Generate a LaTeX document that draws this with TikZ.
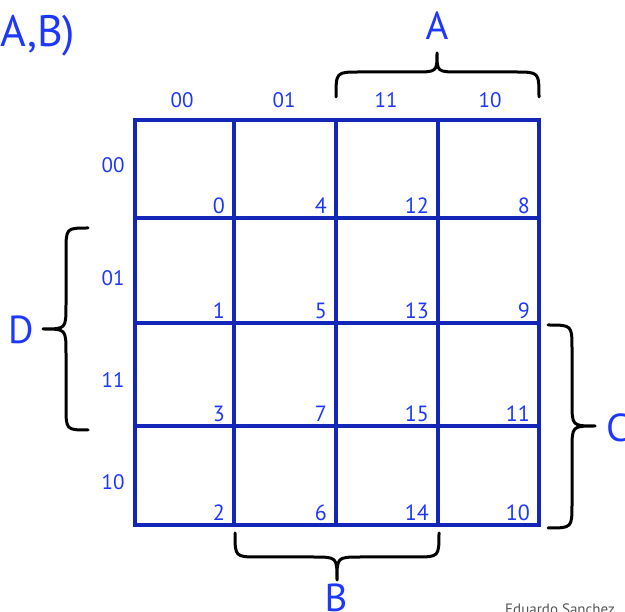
\documentclass[tikz,border=0pt]{standalone}
\usepackage{fontspec}
\setmainfont{PT Sans}
\definecolor{gridblue}{RGB}{20,38,184}
\definecolor{txtblue}{RGB}{30,55,255}
\definecolor{credgray}{RGB}{85,85,85}
\tikzset{
  gridline/.style={draw=gridblue, line width=3.8pt},
  bracepath/.style={draw=black, line width=3pt, line cap=round, line join=round},
  cellnum/.style={text=txtblue, font=\fontsize{22}{24}\selectfont, inner sep=0pt, anchor=base east},
  header/.style={text=txtblue, font=\fontsize{21}{24}\selectfont, inner sep=0pt},
  biglabel/.style={text=txtblue, font=\fontsize{39}{42}\selectfont, inner sep=0pt},
}
\begin{document}
\begin{tikzpicture}[x=1pt,y=-1pt]
\useasboundingbox (0,0) rectangle (625,612);
% grid
\foreach \x in {135,234,336,438,539} \draw[gridline] (\x,120) -- (\x,525);
\foreach \y in {120,218,323,426,525} \draw[gridline] (135,\y) -- (539,\y);
\draw[gridline] (135,120) rectangle (539,525);
% cell numbers
\def\colR{{234,336,438,539}}
\def\rowB{{218,323,426,525}}
\foreach \r/\nums in {0/{0,4,12,8},1/{1,5,13,9},2/{3,7,15,11},3/{2,6,14,10}}{
  \foreach \n [count=\c from 0] in \nums {
    \pgfmathsetmacro{\xx}{\colR[\c]-9}
    \pgfmathsetmacro{\yy}{\rowB[\r]-4}
    \node[cellnum] (cell\r\c) at (\xx,\yy) {\n};
  }
}
% column headers
\node[header] (c00) at (182,100) {00};
\node[header] (c01) at (284,100) {01};
\node[header] (c11) at (386,100) {11};
\node[header] (c10) at (490,100) {10};
% row headers
\node[header] (r00) at (113,165) {00};
\node[header] (r01) at (113,278) {01};
\node[header] (r11) at (113,380) {11};
\node[header] (r10) at (113,482) {10};
% braces
% top (A)
\draw[bracepath] (336,97) .. controls (336,72) .. (360,72) -- (414,72)
  .. controls (437,72) .. (437,53) .. controls (437,72) .. (460,72) -- (515,72)
  .. controls (539,72) .. (539,97);
% bottom (B)
\draw[bracepath] (235,533) .. controls (235,557) .. (259,557) -- (313,557)
  .. controls (337,557) .. (337,580) .. controls (337,557) .. (361,557) -- (415,557)
  .. controls (439,557) .. (439,533);
% left (D)
\draw[bracepath] (88,228) .. controls (66,228) .. (66,252) -- (66,305)
  .. controls (66,329) .. (43,329) .. controls (66,329) .. (66,353) -- (66,406)
  .. controls (66,430) .. (88,430);
% right (C)
\draw[bracepath] (548,325) .. controls (572,325) .. (572,349) -- (572,402)
  .. controls (572,426) .. (595,426) .. controls (572,426) .. (572,450) -- (572,504)
  .. controls (572,528) .. (548,528);
% labels
\node[biglabel, anchor=west, font=\fontsize{44}{48}\selectfont] (ab) at (0,36) {A,B)};
\node[biglabel] (la) at (437,26) {A};
\node[biglabel] (lb) at (336,598) {B};
\node[biglabel] (ld) at (21,330) {D};
\node[biglabel, anchor=west] (lc) at (606,428) {C};
\node[text=credgray, font=\fontsize{15}{17}\selectfont, inner sep=0pt, anchor=base west] (cred) at (505,615) {Eduardo Sanchez};
\end{tikzpicture}
\end{document}
